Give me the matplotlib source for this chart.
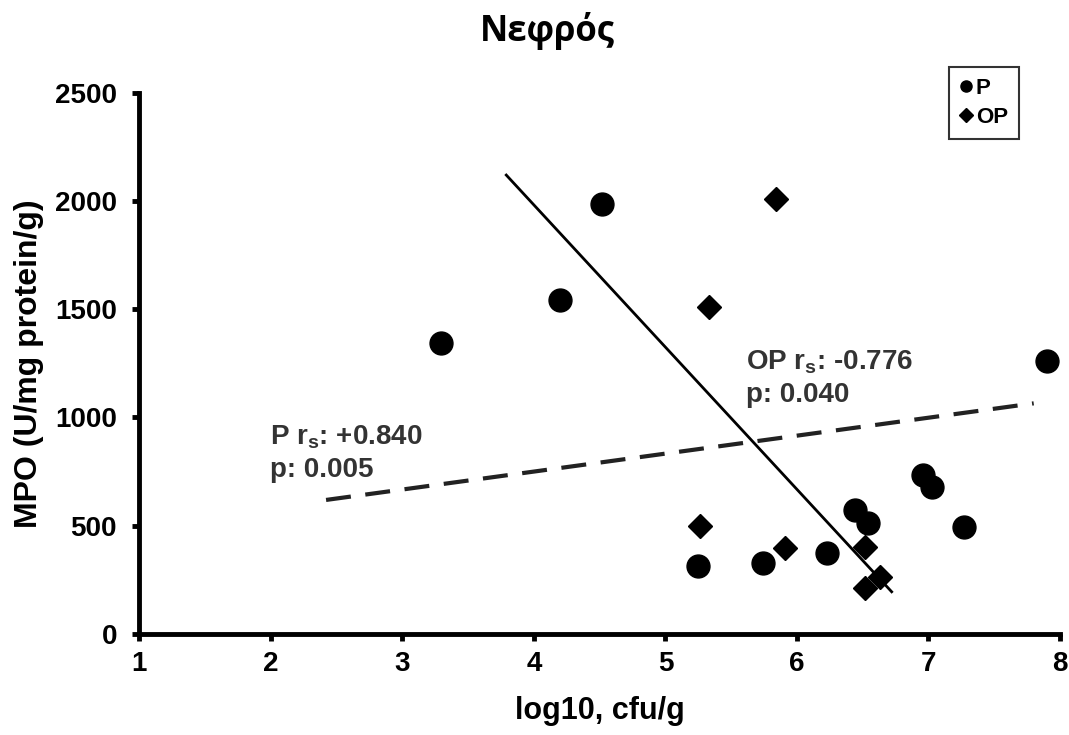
from matplotlib import pyplot as plt
from matplotlib.lines import Line2D

plt.rcParams['font.family'] = ['Liberation Sans', 'DejaVu Sans']
plt.rcParams['mathtext.fontset'] = 'custom'
plt.rcParams['mathtext.rm'] = 'Liberation Sans:bold'
plt.rcParams['mathtext.bf'] = 'Liberation Sans:bold'

# P group (circles)
p_x = [3.29, 4.20, 4.52, 5.25, 5.74, 6.23, 6.44, 6.54, 6.96, 7.03, 7.27, 7.90]
p_y = [1344, 1542, 1985, 314, 328, 374, 572, 512, 734, 680, 495, 1262]

# OP group (diamonds)
op_x = [5.84, 5.33, 5.26, 5.91, 6.52, 6.52, 6.63]
op_y = [2008, 1510, 500, 397, 402, 212, 263]

# trend lines (end points)
p_line_x = [2.42, 7.80]
p_line_y = [619, 1065]
op_line_x = [3.79, 6.72]
op_line_y = [2119, 195]

fig = plt.figure(figsize=(10.69, 7.35), dpi=100)
ax = fig.add_axes([0.1303, 0.1374, 0.8613, 0.7367])

ax.plot(p_line_x, p_line_y, color='#222222', lw=3, ls=(0, (6, 3.5)))
ax.plot(op_line_x, op_line_y, color='black', lw=2)

ax.plot(p_x, p_y, 'o', color='black', ms=16.5, label='P')
ax.plot(op_x, op_y, 'D', color='black', ms=12.5, label='OP')

ax.set_xlim(1, 8)
ax.set_ylim(0, 2500)
ax.set_xticks(range(1, 9))
ax.set_yticks(range(0, 2501, 500))

for s in ['top', 'right']:
    ax.spines[s].set_visible(False)
for s in ['left', 'bottom']:
    ax.spines[s].set_linewidth(3.5)
ax.tick_params(axis='both', width=3.5, length=5, labelsize=20, direction='out')
for lbl in ax.get_xticklabels() + ax.get_yticklabels():
    lbl.set_fontweight('bold')
ax.tick_params(axis='x', pad=7)
ax.tick_params(axis='y', pad=11)

ax.set_xlabel('log10, cfu/g', fontsize=22, fontweight='bold', labelpad=14)
ax.set_ylabel('MPO (U/mg protein/g)', fontsize=23, fontweight='bold', labelpad=8)

fig.text(0.512, 0.958, 'Νεφρός', ha='center', va='center', fontsize=25,
         fontweight='bold', family=['Open Sans', 'DejaVu Sans'])

ax.text(1.99, 909, 'P r$_\\mathbf{s}$: +0.840', fontsize=20, fontweight='bold',
        color='#333333', va='center')
ax.text(1.99, 757, 'p: 0.005', fontsize=20, fontweight='bold',
        color='#333333', va='center')
ax.text(5.61, 1256, 'OP r$_\\mathbf{s}$: -0.776', fontsize=20, fontweight='bold',
        color='#333333', va='center')
ax.text(5.61, 1103, 'p: 0.040', fontsize=20, fontweight='bold',
        color='#333333', va='center')

handles = [Line2D([], [], marker='o', color='black', ls='none', ms=8),
           Line2D([], [], marker='D', color='black', ls='none', ms=7)]
leg = fig.legend(handles, ['P', 'OP'], loc='upper right',
                 bbox_to_anchor=(0.9532, 0.9088), borderaxespad=0, fancybox=False,
                 edgecolor='black', handlelength=0.5, handletextpad=0.2,
                 borderpad=0.5, labelspacing=0.35, prop={'weight': 'bold', 'size': 16})
leg.get_frame().set_linewidth(1.5)

fig.savefig('out.png', dpi=100)
